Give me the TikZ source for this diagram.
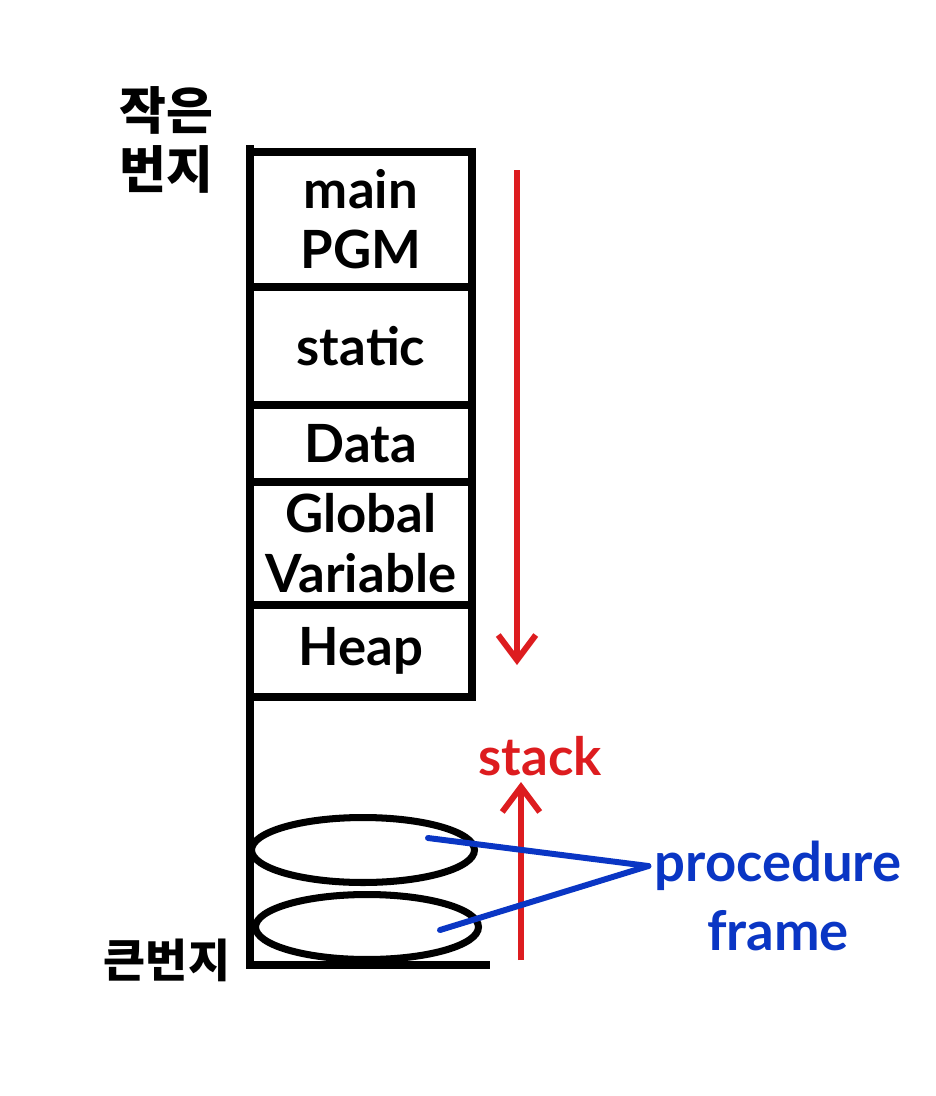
\documentclass[tikz,border=0pt]{standalone}
\usepackage{fontspec}
\setmainfont{Lato}
\newfontfamily\kofont{Noto Sans CJK KR}
\usetikzlibrary{positioning,shapes.geometric,arrows.meta}
\definecolor{penred}{HTML}{DD1C1F}
\definecolor{penblue}{HTML}{0A36C4}

\begin{document}
\begin{tikzpicture}[x=0.02cm,y=-0.02cm,
  seg/.style={draw,line width=4.5pt,minimum width=4.44cm,inner sep=0pt,outer sep=0pt,
    align=center,font=\bfseries\fontsize{30}{34}\selectfont},
  frm/.style={draw,ellipse,line width=4pt,minimum width=4.46cm,minimum height=1.3cm,inner sep=0pt},
  flowarrow/.style={penred,line width=3.4pt,-{Straight Barb[length=0.5cm,width=0.75cm]}},
  tag/.style={penblue,line width=3.4pt,line cap=round}]
 \useasboundingbox (0,0) rectangle (936,1096);
 \node[font=\kofont\bfseries\fontsize{29}{34}\selectfont,align=center] (low) at (166,140) {작은\\번지};
 \node[font=\kofont\bfseries\fontsize{26}{30}\selectfont] (high) at (167,960) {큰번지};
 \node[seg,minimum height=2.7cm,anchor=north west] (main) at (250,152) {main\\PGM};
 \node[seg,minimum height=2.36cm,below=0pt of main] (static) {static};
 \node[seg,minimum height=1.54cm,below=0pt of static] (data) {Data};
 \node[seg,minimum height=2.46cm,below=0pt of data] (global) {Global\\Variable};
 \node[seg,minimum height=1.84cm,below=0pt of global] (heap) {Heap};
 \draw[line width=4.5pt] (250,145) -- (250,965) -- (490,965);
 \node[frm] (fone) at (363,850) {};
 \node[frm] (ftwo) at (367,927) {};
 \draw[flowarrow] (517,170) -- (517,665);
 \coordinate (sbot) at (521,960);
 \node[penred,font=\bfseries\fontsize{30}{34}\selectfont,anchor=south] (stack) at (540,782) {stack};
 \draw[flowarrow] (sbot) -- (stack.south -| sbot);
 \node[penblue,font=\bfseries\fontsize{31}{36}\selectfont] (proc) at (778,866) {procedure};
 \node[penblue,font=\bfseries\fontsize{31}{36}\selectfont,below=4pt of proc] (frame) {frame};
 \coordinate (pone) at (428,838);
 \coordinate (ptwo) at (440,930);
 \draw[tag] (pone) -- (proc.west);
 \draw[tag] (ptwo) -- (proc.west);
\end{tikzpicture}
\end{document}
